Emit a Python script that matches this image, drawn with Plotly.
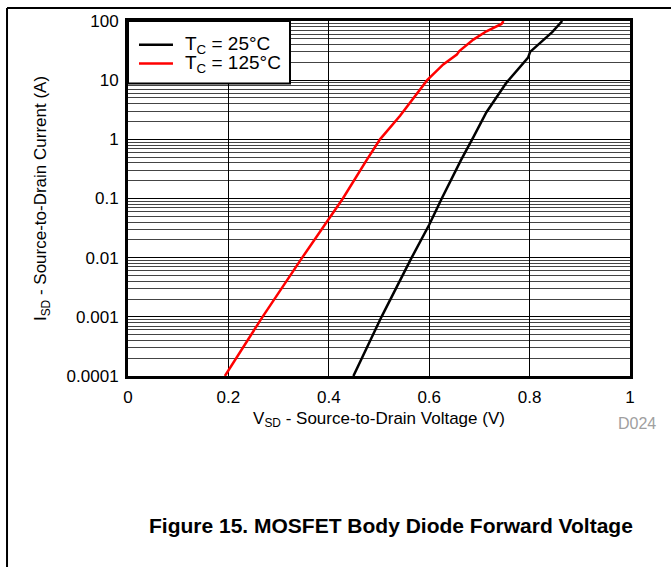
import plotly.graph_objects as go

# Body diode forward characteristic
v_25c = [0.449, 0.505, 0.565, 0.600, 0.625, 0.663, 0.688, 0.714, 0.754, 0.797, 0.801, 0.821, 0.845, 0.865]
i_25c = [1e-4, 1e-3, 1e-2, 0.036, 0.1, 0.44, 1.09, 2.87, 9.1, 24, 30, 42.7, 65, 100]

v_125c = [0.193, 0.268, 0.347, 0.428, 0.475, 0.502, 0.542, 0.596, 0.628, 0.655, 0.660, 0.688, 0.714, 0.744, 0.748]
i_125c = [1e-4, 1e-3, 1e-2, 0.1, 0.44, 1.0, 2.5, 10, 18.5, 27, 31, 48.5, 67, 89, 100]

series_names = ["T<sub>C</sub> = 25°C", "T<sub>C</sub> = 125°C"]
series_colors = ["black", "#ff0000"]

y_ticks = [1e-4, 1e-3, 1e-2, 0.1, 1, 10, 100]
y_labels = ["0.0001", "0.001", "0.01", "0.1", "1", "10", "100"]
minor_vals = [m * d for d in y_ticks[:-1] for m in range(2, 10)]

FONT = "Arial, Liberation Sans, sans-serif"

fig = go.Figure()
for vs, cur, name, col in zip([v_25c, v_125c], [i_25c, i_125c], series_names, series_colors):
    fig.add_trace(go.Scatter(x=vs, y=cur, mode="lines", name=name, showlegend=False,
                             line=dict(color=col, width=2.5)))

fig.update_xaxes(
    range=[0, 1], dtick=0.2, tick0=0,
    showgrid=True, gridcolor="black", gridwidth=1,
    showline=True, linecolor="black", linewidth=3, mirror=True,
    zeroline=False,
    ticks="outside", ticklen=4, tickcolor="rgba(0,0,0,0)",
    tickfont=dict(size=17, color="black"),
    title=dict(text="V<sub>SD</sub> - Source-to-Drain Voltage (V)",
               font=dict(size=17, color="black"), standoff=6),
)
fig.update_yaxes(
    type="log", range=[-4, 2],
    tickmode="array", tickvals=y_ticks, ticktext=y_labels,
    showgrid=True, gridcolor="black", gridwidth=1,
    minor=dict(tickmode="array", tickvals=minor_vals, showgrid=True,
               gridcolor="#444444", gridwidth=1, ticks=""),
    showline=True, linecolor="black", linewidth=3, mirror=True,
    zeroline=False,
    ticks="outside", ticklen=3, tickcolor="rgba(0,0,0,0)",
    tickfont=dict(size=17, color="black"),
    title=dict(text="I<sub>SD</sub> - Source-to-Drain Current (A)",
               font=dict(size=17, color="black"), standoff=16),
)

# hand-built legend box so the rows sit as tight as in the datasheet
shapes = [
    dict(type="rect", xref="paper", yref="paper", x0=0, x1=0.3227, y0=0.824, y1=1,
         fillcolor="white", line=dict(color="black", width=2), layer="above"),
    # page frame (top and left rules)
    dict(type="line", xref="paper", yref="paper",
         x0=-0.241, x1=1.09, y0=1.0363, y1=1.0363,
         line=dict(color="black", width=2)),
    dict(type="line", xref="paper", yref="paper",
         x0=-0.241, x1=-0.241, y0=1.0363, y1=-0.54,
         line=dict(color="black", width=2)),
]
annotations = []
for k, (name, col) in enumerate(zip(series_names, series_colors)):
    yy = 0.933 - k * 0.053
    shapes.append(dict(type="line", xref="paper", yref="paper",
                       x0=0.0219, x1=0.0896, y0=yy, y1=yy,
                       line=dict(color=col, width=2.5), layer="above"))
    annotations.append(dict(text=name, xref="paper", yref="paper", x=0.1096, y=yy,
                            xanchor="left", yanchor="middle", showarrow=False,
                            font=dict(size=19, color="black")))

annotations += [
    dict(text="D024", xref="paper", yref="paper", x=1.014, y=-0.134,
         xanchor="center", yanchor="middle",
         showarrow=False, font=dict(size=16, color="#a0a0a0")),
    dict(text="<b>Figure 15. MOSFET Body Diode Forward Voltage</b>",
         xref="paper", yref="paper", x=0.524, y=-0.422,
         xanchor="center", yanchor="middle",
         showarrow=False, font=dict(size=21, color="black")),
]

fig.update_layout(
    width=671, height=567,
    margin=dict(l=128, r=41, t=18, b=191),
    paper_bgcolor="white", plot_bgcolor="white",
    font=dict(family=FONT, color="black"),
    showlegend=False,
    shapes=shapes,
    annotations=annotations,
)

fig.write_html("out.html", config={"displayModeBar": False},
               post_script="document.body.style.margin='0';")
